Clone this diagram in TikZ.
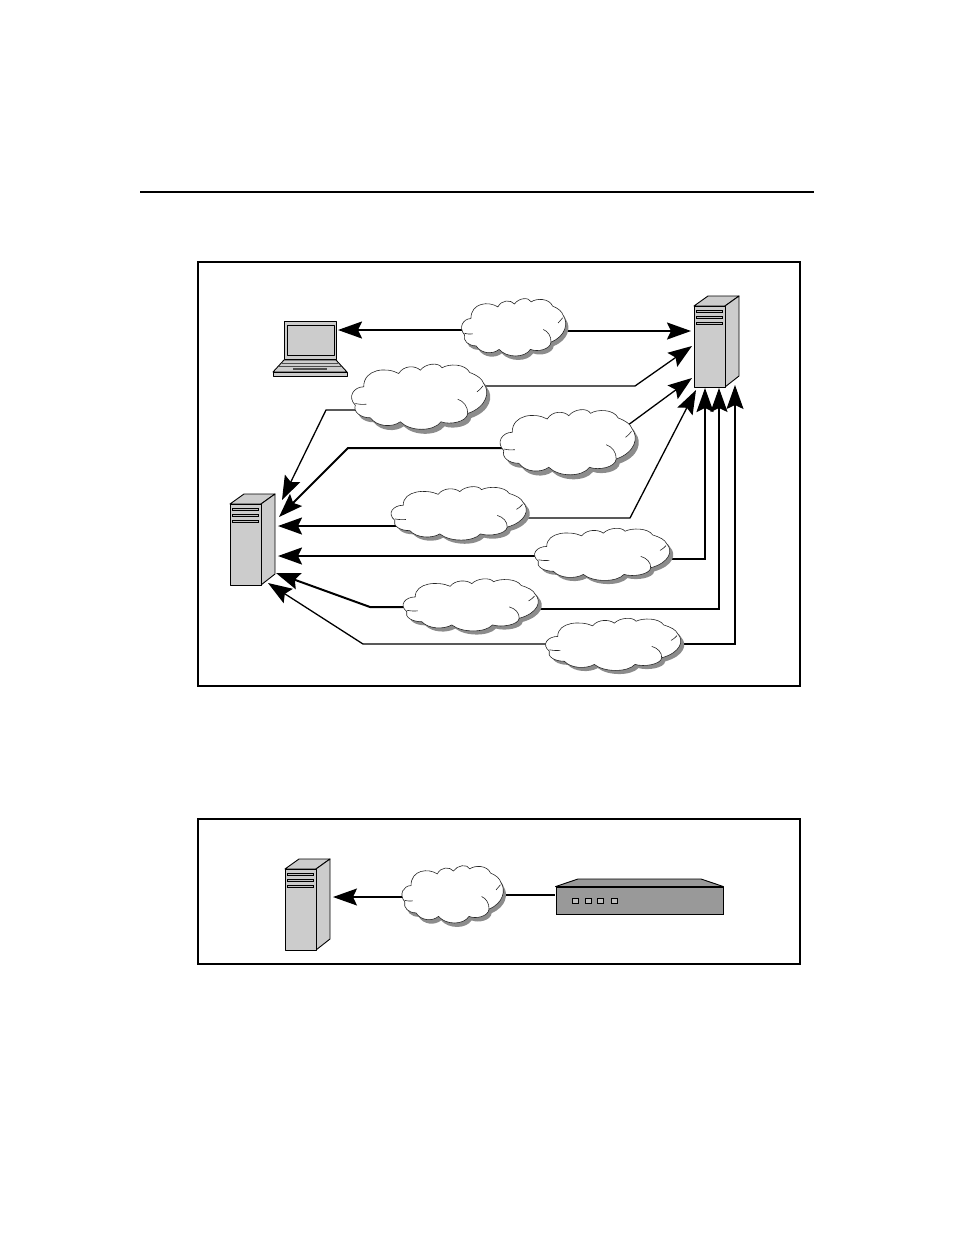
\documentclass[tikz,border=0pt]{standalone}
\usepackage{tikz}
\usetikzlibrary{arrows.meta, backgrounds}
\newcommand{\cloudoutline}{(-55.3,-10.7)
    .. controls (-55.3,-29) and (-32,-30.7) .. (-20.3,-24)
    .. controls (-15.3,-32.3) and (-3.7,-32.3) .. (1.3,-27.3)
    .. controls (6.3,-34) and (19.7,-35.7) .. (23,-29.7)
    .. controls (29.7,-34) and (46.3,-34) .. (50.7,-25)
    .. controls (58,-22.3) and (63,-19) .. (64.7,-14)
    .. controls (71.3,-5.7) and (68,9.3) .. (48.7,16)
    .. controls (48,24.3) and (31.3,27.7) .. (22,24.3)
    .. controls (14.7,34.3) and (-8.7,34.3) .. (-18.7,24.3)
    .. controls (-27,30.3) and (-42,29.3) .. (-48.7,20.3)
    .. controls (-58.7,20.3) and (-66,14.3) .. (-63.7,7.7)
    .. controls (-72,-0.7) and (-65.3,-10.7) .. (-55.3,-10.7) -- cycle}
\tikzset{
    framebox/.style = {draw, line width=1.4pt},
    connect/.style = {black, line width=1.3pt, -{Stealth[length=24pt, width=17pt, inset=4pt]}},
    connectbold/.style = {connect, line width=2pt},
    grayfill/.style = {draw, line width=0.9pt, fill=black!20, line join=round},
    slotbox/.style = {draw, line width=0.9pt, fill=black!25},
    pics/cloudshape/.style 2 args = {code={
        \coordinate (-c) at (0,0);
        \begin{scope}[xscale=#1, yscale=#2]
            \fill [black!45, shift={(3.5,4.5)}] \cloudoutline;
            \draw [black!85, line width=0.6pt, fill=white] \cloudoutline;
            \draw [black!85, line width=0.6pt] (38.7,1.7) .. controls (44.7,3.7) and (49,9.3) .. (48.7,16);
            \draw [black!85, line width=0.6pt] (-63.7,6) .. controls (-58.7,7) and (-57,7) .. (-52.7,6.7);
            \draw [black!85, line width=0.6pt] (58,-5.7) .. controls (61.3,-8.3) and (62,-9) .. (64,-11.7);
        \end{scope}
    }},
    pics/serverbox/.style = {code={
        \draw [grayfill] (0,0) -- (14,-10) -- (45,-10) -- (31,0) -- cycle;
        \draw [grayfill] (31,0) -- (45,-10) -- (45,70) -- (31,81) -- cycle;
        \draw [grayfill] (0,0) rectangle (31,81);
        \foreach \y in {4,10,16}
            \draw [slotbox] (2,\y) rectangle (28,\y+2);
    }},
    pics/laptop/.style = {code={
        \draw [grayfill] (11,0) rectangle (63,38);
        \draw [grayfill] (14,4) rectangle (61,34);
        \draw [grayfill] (11,39) -- (63,39) -- (74,51) -- (0,51) -- cycle;
        \draw [line width=1pt, black!70] (9,42) -- (65,42);
        \draw [line width=1pt, black!70] (6,45) -- (68,45);
        \draw [line width=1.4pt, black!70] (20,48) -- (54,48);
        \draw [grayfill] (0,51) rectangle (74,55);
    }},
}

\begin{document}
\begin{tikzpicture}[x=1pt, y=-1pt]
    \useasboundingbox (0,0) rectangle (954,1235);

    \draw [line width=2pt] (140,192) -- (814,192);
    \node [name=topframe, framebox, minimum width=602pt, minimum height=424pt, inner sep=0pt] at (499,474) {};
    \node [name=lowframe, framebox, minimum width=602pt, minimum height=145pt, inner sep=0pt] at (499,891.5) {};

    \pic (mobile) at (273,321) {laptop};
    \pic (srvright) at (694,306) {serverbox};
    \pic (srvleft) at (230,504) {serverbox};
    \pic (srvlow) at (285,869) {serverbox};

    % clouds
    \pic (cloudA) at (513.5,328) {cloudshape={0.77}{0.88}};
    \pic (cloudB) at (419,397.5) {cloudshape={1}{1}};
    \pic (cloudC) at (567.5,443) {cloudshape={1}{1}};
    \pic (cloudD) at (458.5,514) {cloudshape={1}{0.82}};
    \pic (cloudE) at (602,555) {cloudshape={1}{0.8}};
    \pic (cloudF) at (470.5,605.5) {cloudshape={1}{0.8}};
    \pic (cloudG) at (613,645) {cloudshape={1}{0.8}};
    \pic (cloudH) at (452.5,895) {cloudshape={0.75}{0.88}};

    % router
    \node [name=router, draw, line width=0.9pt, fill=black!40, minimum width=167pt, minimum height=27pt, inner sep=0pt] at (639.5,900.5) {};
    \draw [line width=0.9pt, fill=black!40, line join=round] (router.north west) -- (578,879) -- (701,879) -- (router.north east) -- cycle;
    \foreach \x in {572,585,597,611}
        \draw [slotbox] (\x,898) rectangle (\x+6,903);

    % arrow ends and bends
    \coordinate (tipmobile) at (338,330);
    \coordinate (tipA) at (691,331);
    \coordinate (tipB) at (692,346);
    \coordinate (tipC) at (692,378);
    \coordinate (tipD) at (696,390);
    \coordinate (tipE) at (705,388);
    \coordinate (tipF) at (719,388);
    \coordinate (tipG) at (735,385);
    \coordinate (leftB) at (282,500);
    \coordinate (leftC) at (279,517);
    \coordinate (leftD) at (278,526);
    \coordinate (leftE) at (278,556);
    \coordinate (leftF) at (276,573);
    \coordinate (leftG) at (268,583);
    \coordinate (tiplow) at (333,897);
    \coordinate (routerin) at (555,895);
    \coordinate (bendB) at (635,386);
    \coordinate (bendBl) at (326,410);
    \coordinate (bendC) at (605,442);
    \coordinate (bendCl) at (348,448);
    \coordinate (bendD) at (630,518);
    \coordinate (bendE) at (705,559);
    \coordinate (bendF) at (719,609);
    \coordinate (bendFl) at (370,607);
    \coordinate (bendG) at (735,644);
    \coordinate (bendGl) at (363,644);

    \begin{pgfonlayer}{background}
        \draw [connectbold] (cloudA-c |- tipmobile) -- (tipmobile);
        \draw [connectbold] (cloudA-c |- tipA) -- (tipA);
        \draw [connect] (cloudB-c |- bendB) -- (bendB) -- (tipB);
        \draw [connect] (cloudB-c |- bendBl) -- (bendBl) -- (leftB);
        \draw [connect] (cloudC-c |- bendC) -- (bendC) -- (tipC);
        \draw [connectbold] (cloudC-c |- bendCl) -- (bendCl) -- (leftC);
        \draw [connectbold] (cloudD-c |- leftD) -- (leftD);
        \draw [connect] (cloudD-c |- bendD) -- (bendD) -- (tipD);
        \draw [connectbold] (cloudE-c |- leftE) -- (leftE);
        \draw [connectbold] (cloudE-c |- bendE) -- (bendE) -- (tipE);
        \draw [connectbold] (cloudF-c |- bendFl) -- (bendFl) -- (leftF);
        \draw [connect] (cloudF-c |- bendF) -- (bendF) -- (tipF);
        \draw [connect] (cloudG-c |- bendGl) -- (bendGl) -- (leftG);
        \draw [connect] (cloudG-c |- bendG) -- (bendG) -- (tipG);
        \draw [connect] (cloudH-c |- tiplow) -- (tiplow);
        \draw [line width=2pt] (cloudH-c |- routerin) -- (routerin);
    \end{pgfonlayer}
\end{tikzpicture}
\end{document}
